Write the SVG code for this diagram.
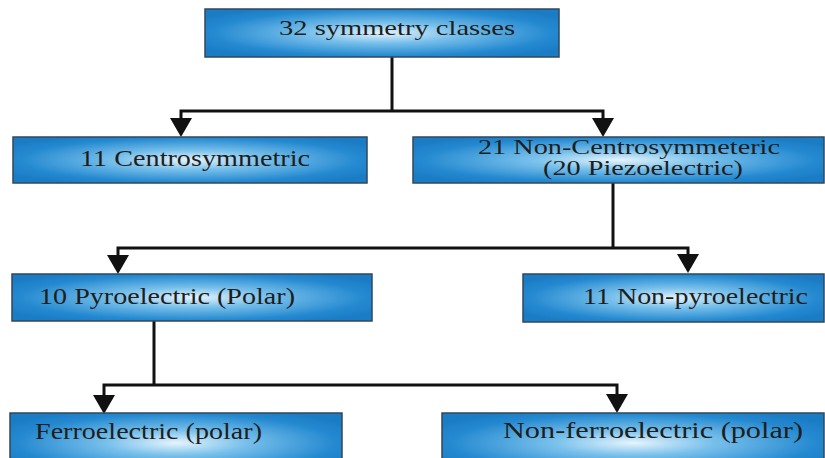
<svg xmlns="http://www.w3.org/2000/svg" width="825" height="458" viewBox="0 0 825 458">
<defs>
<radialGradient id="g" cx="0.5" cy="0.5" r="0.6">
<stop offset="0" stop-color="#e6f4fc"/>
<stop offset="0.35" stop-color="#78c0eb"/>
<stop offset="0.8" stop-color="#2489d0"/>
<stop offset="1" stop-color="#1b7cc6"/>
</radialGradient>
<marker id="ah" viewBox="0 0 19 22" refX="0" refY="11" markerWidth="19" markerHeight="22" markerUnits="userSpaceOnUse" orient="auto-start-reverse">
<path d="M0 0 L19 11 L0 22 Z" fill="#111"/>
</marker>
<style>
.box{fill:url(#g);stroke:#33475a;stroke-width:1.5}
.t{font-family:"Liberation Serif","Times New Roman",serif;fill:#1e1e1e;font-size:23px}
.c{fill:none;stroke:#111;stroke-width:3}
.a{marker-start:url(#ah);marker-end:url(#ah)}
</style>
</defs>
<rect width="825" height="458" fill="#fff"/>
<g id="connectors">
<path class="c" d="M392 57 V111"/>
<path class="c a" d="M181 118 V111 H603 V118"/>
<path class="c" d="M613 183 V248"/>
<path class="c a" d="M118 255 V248 H688 V254"/>
<path class="c" d="M154 321 V385"/>
<path class="c a" d="M104 395 V385 H617 V394"/>
</g>
<g id="n32">
<rect class="box" x="205" y="9" width="354" height="48"/>
<text class="t" x="279" y="35" style="font-size:21px" textLength="236" lengthAdjust="spacingAndGlyphs">32 symmetry classes</text>
</g>
<g id="centro">
<rect class="box" x="13" y="137" width="354" height="46"/>
<text class="t" x="80" y="166" textLength="230" lengthAdjust="spacingAndGlyphs">11 Centrosymmetric</text>
</g>
<g id="noncentro">
<rect class="box" x="413" y="137" width="411" height="46"/>
<text class="t" x="478" y="154" style="font-size:20px" textLength="302" lengthAdjust="spacingAndGlyphs">21 Non-Centrosymmeteric</text>
<text class="t" x="543" y="175" style="font-size:20px" textLength="200" lengthAdjust="spacingAndGlyphs">(20 Piezoelectric)</text>
</g>
<g id="pyro">
<rect class="box" x="12" y="274" width="360" height="47"/>
<text class="t" x="39" y="304" textLength="256" lengthAdjust="spacingAndGlyphs">10 Pyroelectric (Polar)</text>
</g>
<g id="nonpyro">
<rect class="box" x="523" y="274" width="301" height="48"/>
<text class="t" x="583" y="304" textLength="225" lengthAdjust="spacingAndGlyphs">11 Non-pyroelectric</text>
</g>
<g id="ferro">
<rect class="box" x="10" y="413" width="332" height="60"/>
<text class="t" x="35" y="439" textLength="227" lengthAdjust="spacingAndGlyphs">Ferroelectric (polar)</text>
</g>
<g id="nonferro">
<rect class="box" x="442" y="413" width="382" height="60"/>
<text class="t" x="503" y="438" textLength="300" lengthAdjust="spacingAndGlyphs">Non-ferroelectric (polar)</text>
</g>
</svg>
